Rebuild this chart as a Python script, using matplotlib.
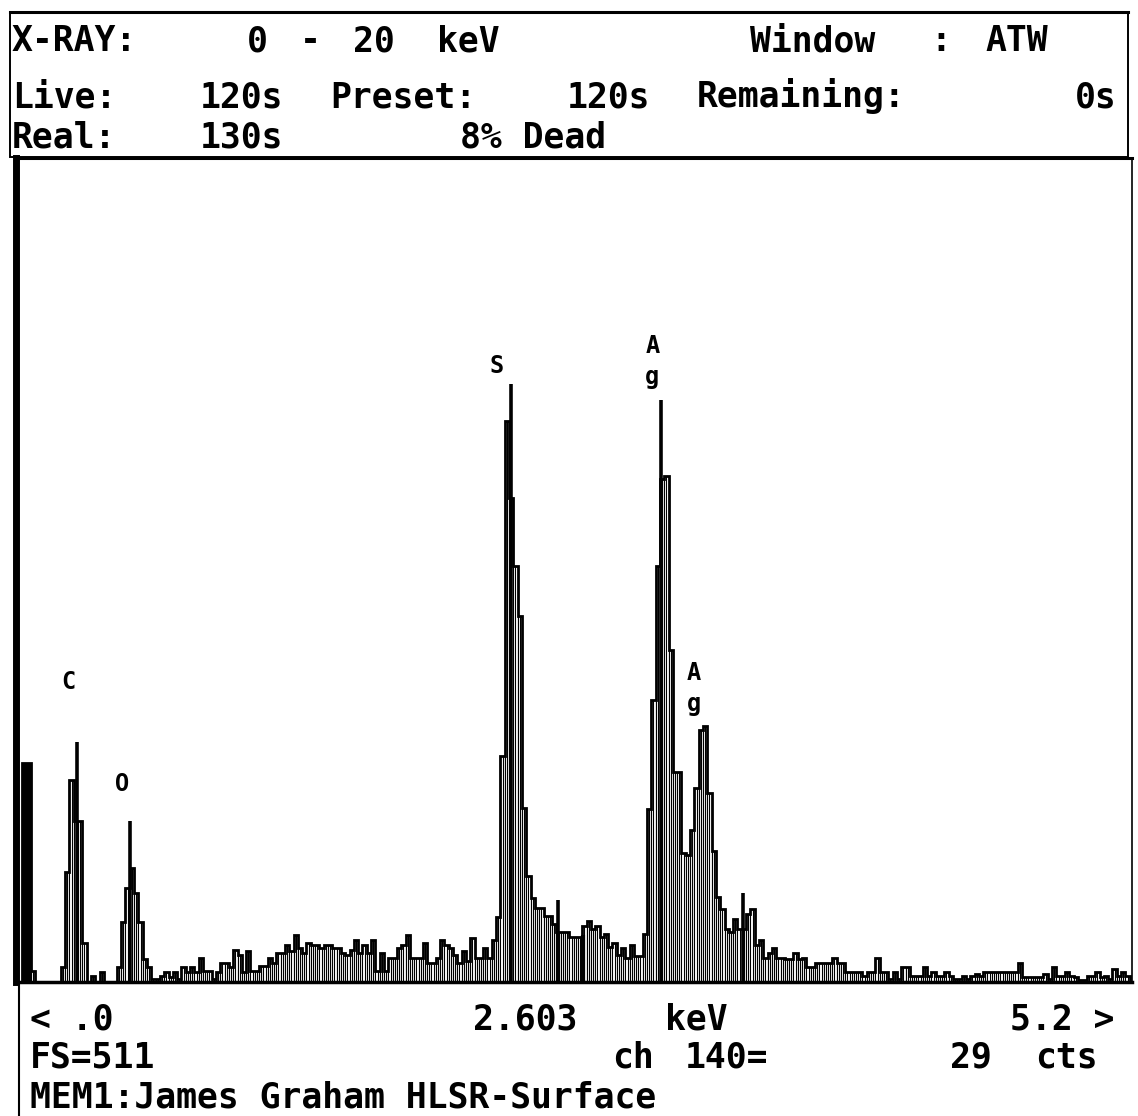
import numpy as np
import matplotlib
matplotlib.use("Agg")
import matplotlib.pyplot as plt
from matplotlib.patches import Rectangle
from matplotlib.lines import Line2D

W, H = 1138, 1116
CH_KEV = 0.02  # channel width

# counts per 20 eV channel
counts = [
    136, 136, 7, 0, 0, 0, 0, 0, 0, 9,
    68, 125, 100, 100, 24, 0, 4, 0, 6, 0,
    0, 0, 9, 37, 58, 71, 55, 37, 14, 9,
    2, 2, 4, 6, 3, 6, 2, 9, 6, 9,
    6, 15, 7, 7, 2, 6, 12, 12, 9, 20,
    17, 6, 19, 7, 7, 10, 10, 15, 12, 18,
    18, 23, 19, 29, 21, 18, 24, 23, 23, 21,
    23, 23, 21, 21, 18, 17, 20, 26, 18, 23,
    18, 26, 7, 18, 7, 15, 15, 21, 23, 29,
    15, 15, 15, 24, 12, 12, 15, 26, 23, 21,
    17, 12, 19, 13, 27, 15, 15, 21, 15, 26,
    40, 140, 348, 300, 258, 227, 108, 66, 52, 46,
    46, 41, 41, 36, 31, 31, 31, 28, 28, 28,
    35, 38, 33, 35, 28, 30, 22, 24, 17, 21,
    15, 23, 16, 16, 30, 107, 175, 258, 312, 314,
    206, 130, 130, 80, 79, 94, 120, 156, 159, 117,
    81, 53, 45, 33, 31, 39, 33, 33, 42, 45,
    23, 26, 15, 18, 21, 15, 15, 14, 14, 18,
    14, 15, 9, 9, 12, 12, 12, 12, 15, 12,
    12, 6, 6, 6, 6, 4, 6, 6, 15, 6,
    6, 2, 6, 2, 9, 9, 4, 4, 4, 9,
    4, 6, 4, 4, 6, 4, 2, 2, 4, 2,
    4, 5, 4, 6, 6, 6, 6, 6, 6, 6,
    6, 12, 3, 3, 3, 3, 3, 5, 2, 9,
    4, 4, 6, 4, 3, 1, 1, 4, 4, 6,
    3, 4, 2, 8, 4, 6, 4,
]

# single-channel spikes on top of the peaks
spike_kev = [0.255, 0.503, 2.269, 2.487, 2.965, 3.346]
spike_cts = [149, 100, 371, 51, 361, 55]

cursor_kev = 2.603
cursor_cts = 29
full_scale = 511

label_text = ["C", "O", "S", "A\ng", "A\ng"]
label_kev = [0.213, 0.464, 2.204, 2.925, 3.117]
label_cts = [186, 123, 382, 385, 182]

MONO = 'DejaVu Sans Mono'

fig = plt.figure(figsize=(W / 100, H / 100), dpi=100)
fig.patch.set_facecolor('white')


def fx(px):
    return px / W


def fy(py):
    return 1 - py / H


# ---- spectrum area ----
ax = fig.add_axes([fx(16), fy(982), fx(1132) - fx(16), fy(158) - fy(982)])
edges = np.arange(len(counts) + 1) * CH_KEV
ax.bar(edges[:-1], counts, width=CH_KEV, align='edge', facecolor='white',
       edgecolor='black', linewidth=0.8)
# inner stripe of each channel gives the grey hatched look
ax.vlines(edges[:-1] + CH_KEV / 2, 0, counts, color='black', linewidth=0.8)
ax.bar(edges[:2], counts[:2], width=CH_KEV, align='edge', color='black')
ax.stairs(counts, edges, color='black', linewidth=2.0)
ax.vlines(spike_kev, 0, spike_cts, color='black', linewidth=2.6)
ax.vlines(cursor_kev, 0, cursor_cts, color='black', linewidth=3)

for t, e, c in zip(label_text, label_kev, label_cts):
    ax.text(e, c, t, ha='center', va='center', family=MONO, fontsize=17,
            weight='bold', linespacing=1.35)

ax.set_xlim((16 - 22) / 215.5, (1132 - 22) / 215.5)
ax.set_ylim(0, full_scale)
ax.set_xticks([])
ax.set_yticks([])
ax.spines['left'].set_linewidth(5)
ax.spines['bottom'].set_linewidth(2.5)
ax.spines['top'].set_linewidth(2.2)
ax.spines['right'].set_linewidth(1.2)

# ---- frame lines ----
fig.add_artist(Rectangle((fx(10), fy(157)), fx(1128) - fx(10), fy(12) - fy(157),
                         transform=fig.transFigure, fill=False, linewidth=1.4,
                         edgecolor='black'))
fig.add_artist(Line2D([fx(10), fx(1128)], [fy(12), fy(12)],
                      transform=fig.transFigure, color='black', linewidth=2.2))
fig.add_artist(Line2D([fx(19), fx(19)], [fy(982), 0],
                      transform=fig.transFigure, color='black', linewidth=1.5))

header = [
    ("X-RAY:", 12, 51), ("0", 247, 51), ("-", 300, 51), ("20", 353, 51),
    ("keV", 437, 51), ("Window", 750, 51), (":", 930, 51), ("ATW", 985, 51),
    ("Live:", 12, 107), ("120s", 200, 107), ("Preset:", 330, 107),
    ("120s", 567, 107), ("Remaining:", 697, 107), ("0s", 1075, 107),
    ("Real:", 12, 148), ("130s", 200, 148), ("8% Dead", 460, 148),
]
for s, x, y in header:
    fig.text(fx(x), fy(y), s, ha='left', va='baseline', family=MONO,
             fontsize=25, weight='bold')

footer = [
    ("< .0", 30, 1030), ("2.603", 473, 1030), ("keV", 665, 1030),
    ("5.2 >", 1010, 1030),
    ("FS=511", 30, 1068), ("ch", 612, 1068), ("140=", 685, 1068),
    ("29", 950, 1068), ("cts", 1035, 1068),
    ("MEM1:James Graham HLSR-Surface", 30, 1107),
]
for s, x, y in footer:
    fig.text(fx(x), fy(y), s, ha='left', va='baseline', family=MONO,
             fontsize=25, weight='bold')

fig.savefig('out.png', dpi=100, facecolor='white')
